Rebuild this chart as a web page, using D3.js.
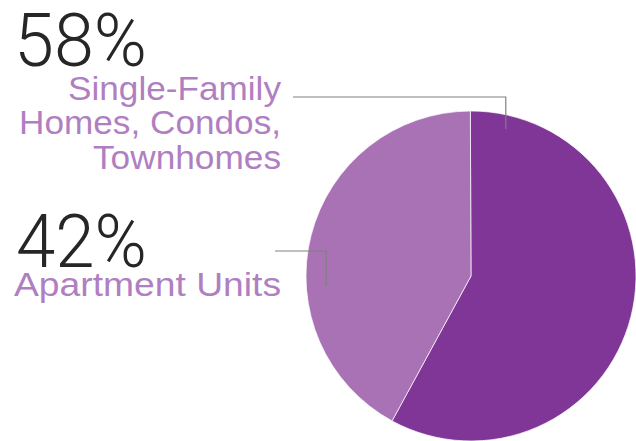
<!DOCTYPE html>
<html>
<head>
<meta charset="utf-8">
<script src="https://cdn.jsdelivr.net/npm/d3@7"></script>
<style>
  html, body { margin: 0; padding: 0; background: #ffffff; }
  svg { display: block; }
</style>
</head>
<body>
<svg id="chart" width="636" height="441"></svg>
<script>
// Housing mix shares
const categories = ["Single-Family Homes, Condos, Townhomes", "Apartment Units"];
const values = [58, 42];
const valueLabels = ["58%", "42%"];
const labelLines = [
  ["Single-Family", "Homes, Condos,", "Townhomes"],
  ["Apartment Units"]
];

const sliceColors = ["#7f3696", "#a872b5"];
const textPurple = "#b07fc2";

const width = 636, height = 441;
const cx = 471, cy = 276, radius = 165;

const svg = d3.select("#chart");

const color = d3.scaleOrdinal().domain(categories).range(sliceColors);

const pie = d3.pie().sort(null).value(d => d.value).startAngle(-0.004);
const arc = d3.arc().innerRadius(0).outerRadius(radius);

const data = categories.map((c, i) => ({ category: c, value: values[i] }));
const arcs = pie(data);

const g = svg.append("g").attr("transform", `translate(${cx},${cy})`);

g.selectAll("path.slice")
  .data(arcs)
  .join("path")
  .attr("class", "slice")
  .attr("d", arc)
  .attr("fill", d => color(d.data.category))
  .attr("stroke", "rgba(255,255,255,0.7)")
  .attr("stroke-width", 1);

// Callout text blocks and leader lines
const blocks = [
  {
    numX: 14, numBase: 66, numWidth: 133,
    labelRight: 281, labelBase: 99.5, lineGap: 34.5,
    widths: [213, 262, 188],
    leader: { x0: 293, y: 97, angleFrac: 0.037, rFrac: 0.915 }
  },
  {
    numX: 16, numBase: 267, numWidth: 131,
    labelRight: 281, labelBase: 296, lineGap: 34.5,
    widths: [267],
    leader: { x0: 275, y: 251, angleFrac: 0.739, rFrac: 0.88 }
  }
];

blocks.forEach((b, i) => {
  svg.append("text")
    .attr("x", b.numX)
    .attr("y", b.numBase)
    .attr("font-family", "Roboto, 'Liberation Sans', sans-serif")
    .attr("font-weight", 300)
    .attr("font-size", 74)
    .attr("fill", "#262626")
    .attr("textLength", b.numWidth)
    .attr("lengthAdjust", "spacingAndGlyphs")
    .text(valueLabels[i]);

  labelLines[i].forEach((line, j) => {
    svg.append("text")
      .attr("x", b.labelRight)
      .attr("y", b.labelBase + j * b.lineGap)
      .attr("text-anchor", "end")
      .attr("font-family", "'Liberation Sans', Arial, sans-serif")
      .attr("font-size", 33)
      .attr("fill", textPurple)
      .attr("textLength", b.widths[j])
      .attr("lengthAdjust", "spacingAndGlyphs")
      .text(line);
  });

  // Leader: horizontal run, then a drop into the slice
  const ang = b.leader.angleFrac * 2 * Math.PI;
  const [px, py] = d3.pointRadial(ang, radius * b.leader.rFrac);
  const ex = cx + px, ey = cy + py;
  svg.append("path")
    .attr("d", d3.line()([[b.leader.x0, b.leader.y], [ex, b.leader.y], [ex, ey]]))
    .attr("fill", "none")
    .attr("stroke", "#808080")
    .attr("stroke-width", 1.2);
});
</script>
</body>
</html>
